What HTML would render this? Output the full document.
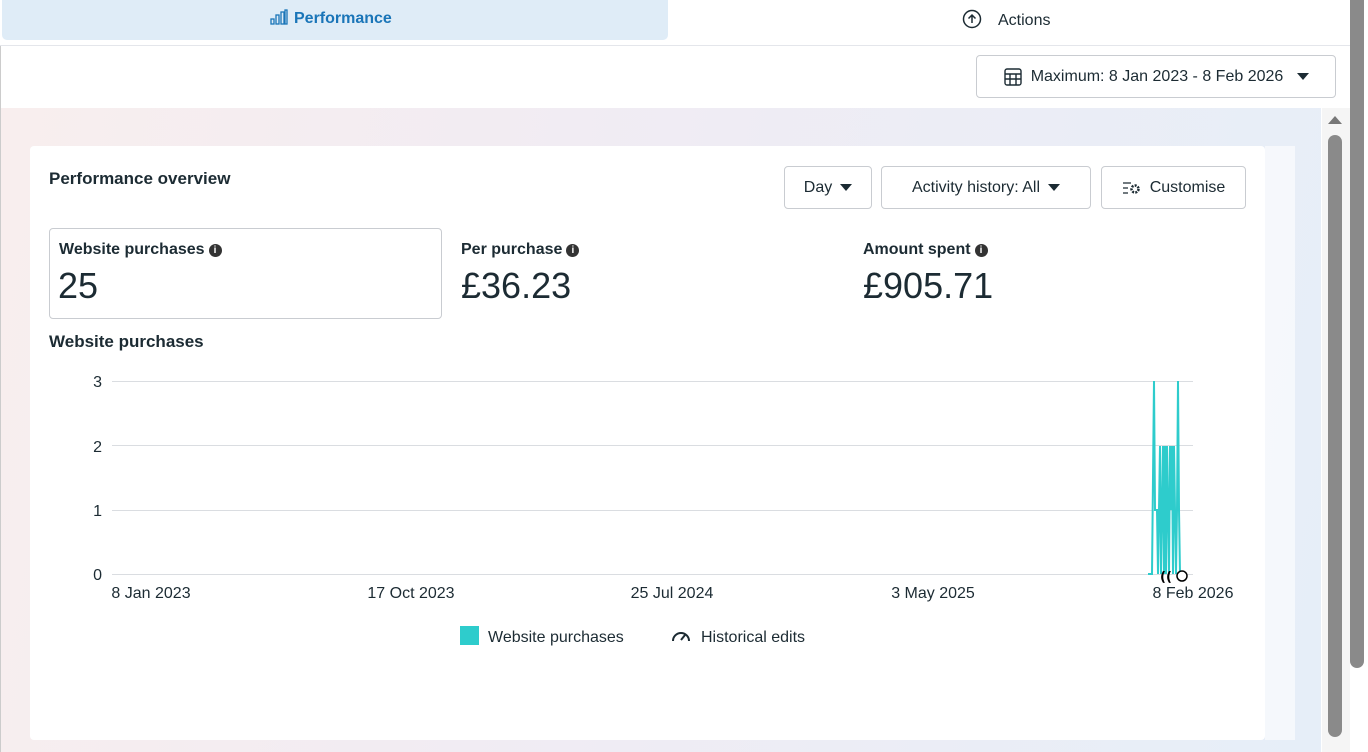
<!DOCTYPE html>
<html><head><meta charset="utf-8"><style>
*{box-sizing:border-box;margin:0;padding:0}
body{width:1368px;height:752px;overflow:hidden;background:#fff;font-family:"Liberation Sans",sans-serif;color:#1c2b33;position:relative}
.abs{position:absolute}
.btn{position:absolute;border:1px solid #c9ccd1;border-radius:4px;background:#fff;font-size:16px;display:flex;align-items:center;justify-content:center;gap:8px;color:#1c2b33}
.tri{width:0;height:0;border-left:6px solid transparent;border-right:6px solid transparent;border-top:7px solid #1c2b33}
.lbl{font-size:16px;font-weight:bold;color:#1c2b33}
.big{font-size:36px;color:#1c2b33}
.info{display:inline-block;width:13px;height:13px;border-radius:50%;background:#333;color:#fff;font-size:10px;text-align:center;line-height:13px;font-weight:bold;vertical-align:1px;margin-left:4px}
</style></head><body>
<div class="abs" style="left:2px;top:0;width:666px;height:40px;background:#dfecf7;border-radius:0 0 5px 5px"></div>
<div class="abs" style="left:270px;top:9px;font-size:16px;font-weight:bold;color:#1a75b8">
<svg width="18" height="16" style="vertical-align:-2px;margin-right:6px"><g fill="none" stroke="#1a75b8" stroke-width="1.3"><rect x="1" y="10" width="3" height="5"/><rect x="6" y="6" width="3" height="9"/><rect x="11" y="3" width="3" height="12"/><rect x="15" y="1" width="2" height="14"/></g></svg>Performance</div>
<div class="abs" style="left:962px;top:9px;font-size:16px;color:#1c2b33"><svg width="20" height="20" style="vertical-align:-4px;margin-right:16px"><circle cx="10" cy="10" r="8.5" fill="none" stroke="#1c2b33" stroke-width="1.5"/><path d="M10 14V6M6.5 9.5L10 6l3.5 3.5" fill="none" stroke="#1c2b33" stroke-width="1.5"/></svg>Actions</div>
<div class="abs" style="left:0;top:45px;width:1350px;height:1px;background:#e4e6eb"></div>
<div class="abs" style="left:0;top:46px;width:1px;height:706px;background:#ccc"></div>
<div class="btn" style="left:976px;top:55px;width:360px;height:43px;font-size:16px"><svg width="20" height="20"><g fill="none" stroke="#1c2b33" stroke-width="1.4"><rect x="2" y="2" width="16" height="16" rx="2"/><path d="M2 7h16M2 12h16M7 7v11M13 7v11"/></g></svg>Maximum: 8 Jan 2023 - 8 Feb 2026 <span class="tri" style="margin-left:6px"></span></div>
<div class="abs" style="left:1px;top:108px;width:1320px;height:644px;background:linear-gradient(100deg,#f8eeee 0%,#f1ecf3 40%,#e6eef8 100%)"></div>
<div class="abs" style="left:30px;top:146px;width:1235px;height:594px;background:#fff;border-radius:4px"></div>
<div class="abs" style="left:1265px;top:146px;width:30px;height:594px;background:#fff;opacity:.6"></div>
<div class="abs lbl" style="left:49px;top:169px;font-size:17px">Performance overview</div>
<div class="btn" style="left:784px;top:166px;width:88px;height:43px">Day <span class="tri"></span></div>
<div class="btn" style="left:881px;top:166px;width:210px;height:43px">Activity history: All <span class="tri"></span></div>
<div class="btn" style="left:1101px;top:166px;width:145px;height:43px"><svg width="20" height="14"><path d="M1 2h8M1 7h5M1 12h5" stroke="#1c2b33" stroke-width="1.3"/><circle cx="13" cy="8" r="3.5" fill="none" stroke="#1c2b33" stroke-width="2.5" stroke-dasharray="2 1.2"/></svg>Customise</div>
<div class="abs" style="left:49px;top:228px;width:393px;height:91px;border:1px solid #c9ccd1;border-radius:4px"></div>
<div class="abs lbl" style="left:59px;top:241px">Website purchases<span class="info">i</span></div>
<div class="abs big" style="left:58px;top:265px">25</div>
<div class="abs lbl" style="left:461px;top:241px">Per purchase<span class="info">i</span></div>
<div class="abs big" style="left:461px;top:265px">£36.23</div>
<div class="abs lbl" style="left:863px;top:241px">Amount spent<span class="info">i</span></div>
<div class="abs big" style="left:863px;top:265px">£905.71</div>
<div class="abs lbl" style="left:49px;top:332px;font-size:17px">Website purchases</div>
<svg class="abs" style="left:0;top:0" width="1368" height="752">
<g stroke="#dadde1" stroke-width="1"><line x1="112" y1="381.5" x2="1193" y2="381.5"/><line x1="112" y1="445.5" x2="1193" y2="445.5"/><line x1="112" y1="510.5" x2="1193" y2="510.5"/><line x1="112" y1="574.5" x2="1193" y2="574.5"/></g>
<g font-family="Liberation Sans" font-size="16" fill="#1c2b33" text-anchor="end"><text x="102" y="387">3</text><text x="102" y="452">2</text><text x="102" y="516">1</text><text x="102" y="580">0</text></g>
<g font-family="Liberation Sans" font-size="16" fill="#1c2b33" text-anchor="middle"><text x="151" y="598">8 Jan 2023</text><text x="411" y="598">17 Oct 2023</text><text x="672" y="598">25 Jul 2024</text><text x="933" y="598">3 May 2025</text><text x="1193" y="598">8 Feb 2026</text></g>
<polyline fill="none" stroke="#2ecccc" stroke-width="2" points="1148,574 1152,574 1154,381 1155,510 1157,510 1158,574 1160,446 1161,574 1162,510 1163,446 1164,574 1165,446 1166,574 1167,446 1168,510 1169,574 1170,446 1171,510 1172,446 1173,574 1174,446 1175,510 1176,574 1177,510 1178,381 1179,510 1180,574 1182,574"/>
<g font-size="13" font-weight="bold" fill="#000" font-family="DejaVu Sans"><text x="1160" y="581">((</text><circle cx="1182" cy="576" r="5" fill="#fff" stroke="#000" stroke-width="1.5"/></g>
<rect x="460" y="626" width="19" height="19" fill="#2ecccc"/>
<text x="488" y="642" font-family="Liberation Sans" font-size="16" fill="#1c2b33">Website purchases</text>
<path d="M673 641a8 8 0 1 1 16 0" fill="none" stroke="#1c2b33" stroke-width="2"/><path d="M681 640l4-5" stroke="#1c2b33" stroke-width="2"/>
<text x="701" y="642" font-family="Liberation Sans" font-size="16" fill="#1c2b33">Historical edits</text>
</svg>
<div class="abs" style="left:1322px;top:108px;width:28px;height:644px;background:#f5f5f5"></div>
<div class="abs" style="left:1328px;top:116px;width:0;height:0;border-left:7px solid transparent;border-right:7px solid transparent;border-bottom:8px solid #777"></div>
<div class="abs" style="left:1328px;top:135px;width:14px;height:602px;background:#8a8a8a;border-radius:7px"></div>
<div class="abs" style="left:1350px;top:0;width:14px;height:668px;background:#8a8a8a;border-radius:0 0 7px 7px"></div>
</body></html>
